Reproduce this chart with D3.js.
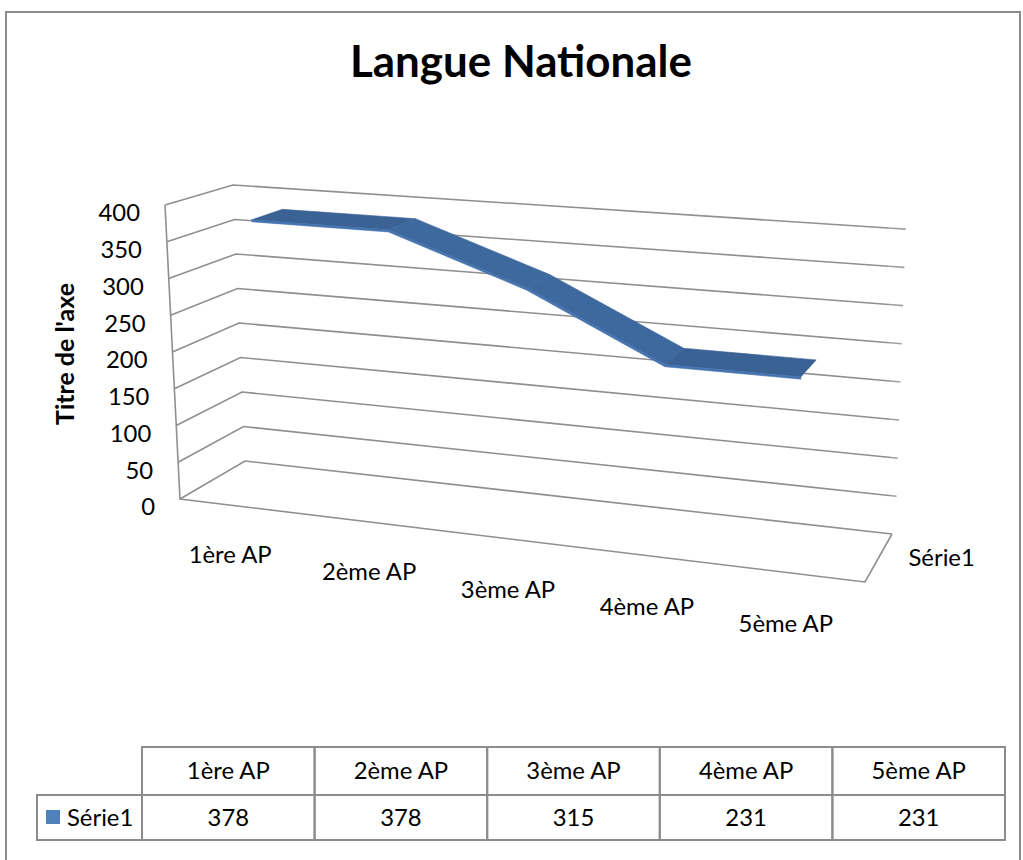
<!DOCTYPE html>
<html><head><meta charset="utf-8">
<script src="https://cdn.jsdelivr.net/npm/d3@7"></script>
<style>body{margin:0;background:#fff;} svg{display:block;}</style>
</head><body>
<svg id="c" width="1023" height="860"></svg>
<script>
const chartTitle = "Langue Nationale";
const categories = ["1ère AP","2ème AP","3ème AP","4ème AP","5ème AP"];
const seriesName = "Série1";
const values = [378,378,315,231,231];
const yTicks = [0,50,100,150,200,250,300,350,400];
const yAxisTitle = "Titre de l'axe";

const svg = d3.select("#c");
const FONT = "Lato, 'Open Sans', sans-serif";
const GRID = "#8f8f8f";

// ---- scales into the normalized 3D box (x: 0..1 left→right, y: 0..1 bottom→top, z: 0 front → 1 back)
const xScale = d3.scaleBand().domain(categories).range([0, 1]);
const yScale = d3.scaleLinear().domain([0, 400]).range([0, 1]);
const xc = c => xScale(c) + xScale.bandwidth() / 2;

// ---- screen position of the 8 corners of the plot box (layout), blended trilinearly
const box = {
  "000":[180,499], "010":[165,205], "001":[245,461], "011":[233,185],
  "100":[865,582], "110":[859,256], "101":[892,534], "111":[888,228]
};
function proj(X,Y,Z){
  let u=0, v=0;
  for (const a of [0,1]) for (const b of [0,1]) for (const c of [0,1]){
    const w=(a?X:1-X)*(b?Y:1-Y)*(c?Z:1-Z);
    const p=box[""+a+b+c]; u+=w*p[0]; v+=w*p[1];
  }
  return [u,v];
}
const line = d3.line();

// ---- chart frame
svg.append("rect").attr("x",6).attr("y",12).attr("width",1014).attr("height",920)
  .attr("fill","none").attr("stroke","#8c8c8c").attr("stroke-width",2);

// ---- font fitting helper
function fitSize(str, weight, target){
  const t = svg.append("text").attr("font-family",FONT).attr("font-weight",weight).attr("font-size",100).text(str);
  const w = t.node().getComputedTextLength(); t.remove();
  return 100*target/w;
}
const fsReg = fitSize("1ère AP", 400, 83);
const fsTitle = fitSize(chartTitle, 700, 342);
const fsAxis = fitSize(yAxisTitle, 700, 142);

// ---- title
svg.append("text").attr("x",521).attr("y",77).attr("text-anchor","middle")
  .attr("font-family",FONT).attr("font-weight",700).attr("font-size",fsTitle).text(chartTitle);

// ---- walls & gridlines
const g = svg.append("g").attr("fill","none").attr("stroke",GRID).attr("stroke-width",1.6);
yTicks.forEach(t=>{
  const y=yScale(t);
  g.append("path").attr("d", line([proj(0,y,0), proj(0,y,1), proj(1,y,1)]));
  if (t>0){
    const e = 0.005 + 0.022*y;
    g.append("path").attr("stroke","#a0a0a0").attr("d", line([proj(1,y,1), proj(1+e,y,1)]));
  }
});
g.append("path").attr("d", line([proj(0,1,0), proj(0,0,0), proj(1,0,0), proj(1,0,1)]));

// ---- ribbon (thin slab: top face across depth + small front face)
const z0 = 0.26, z1 = 0.74, th = 0.007;
const rib = svg.append("g");
for (let i=0;i<values.length-1;i++){
  const xa=xc(categories[i]), xb=xc(categories[i+1]);
  const ya=yScale(values[i]), yb=yScale(values[i+1]);
  const flat = Math.abs(values[i]-values[i+1]) < 1;
  const col = flat ? "#3a6294" : "#3d699f";
  rib.append("path")
    .attr("d", line([proj(xa,ya+th/2,z0), proj(xb,yb+th/2,z0), proj(xb,yb+th/2,z1), proj(xa,ya+th/2,z1)])+"Z")
    .attr("fill", col).attr("stroke", col).attr("stroke-width",0.6);
  rib.append("path")
    .attr("d", line([proj(xa,ya+th/2,z0), proj(xb,yb+th/2,z0), proj(xb,yb-th/2,z0), proj(xa,ya-th/2,z0)])+"Z")
    .attr("fill", "#4573af").attr("stroke","#4675b2").attr("stroke-width",0.6);
}

// ---- value axis labels
yTicks.forEach(t=>{
  const [px,py]=proj(0,yScale(t),0);
  svg.append("text").attr("x",px-25).attr("y",py+8).attr("dy","0.35em")
    .attr("text-anchor","end").attr("font-family",FONT).attr("font-size",fsReg).text(t);
});
svg.append("text").attr("transform","translate(65,354) rotate(-90)").attr("dy","0.35em")
  .attr("text-anchor","middle").attr("font-family",FONT).attr("font-weight",700)
  .attr("font-size",fsAxis).text(yAxisTitle);

// ---- category labels
categories.forEach(c=>{
  const [px,py]=proj(xc(c),0,-0.25);
  svg.append("text").attr("x",px-3).attr("y",py+38).attr("dy","0.35em")
    .attr("text-anchor","middle").attr("font-family",FONT).attr("font-size",fsReg).text(c);
});
// ---- series (depth) label
{
  const [px,py]=proj(1,0,0.5);
  svg.append("text").attr("x",px+30).attr("y",py).attr("dy","0.35em")
    .attr("font-family",FONT).attr("font-size",fsReg).text(seriesName);
}

// ---- data table
const tbl = {left:142, colW:172.6, top:747, rowH1:48, rowH2:45, legendLeft:37};
const tx = d3.scaleBand().domain(categories).range([tbl.left, tbl.left+tbl.colW*categories.length]);
const tg = svg.append("g");
categories.forEach((c,i)=>{
  tg.append("rect").attr("x",tx(c)).attr("y",tbl.top).attr("width",tx.bandwidth()).attr("height",tbl.rowH1)
    .attr("fill","none").attr("stroke","#8c8c8c").attr("stroke-width",2);
  tg.append("rect").attr("x",tx(c)).attr("y",tbl.top+tbl.rowH1).attr("width",tx.bandwidth()).attr("height",tbl.rowH2)
    .attr("fill","none").attr("stroke","#8c8c8c").attr("stroke-width",2);
  tg.append("text").attr("x",tx(c)+tx.bandwidth()/2).attr("y",tbl.top+tbl.rowH1/2).attr("dy","0.35em")
    .attr("text-anchor","middle").attr("font-family",FONT).attr("font-size",fsReg).text(c);
  tg.append("text").attr("x",tx(c)+tx.bandwidth()/2).attr("y",tbl.top+tbl.rowH1+tbl.rowH2/2).attr("dy","0.35em")
    .attr("text-anchor","middle").attr("font-family",FONT).attr("font-size",fsReg).text(values[i]);
});
tg.append("rect").attr("x",tbl.legendLeft).attr("y",tbl.top+tbl.rowH1).attr("width",tbl.left-tbl.legendLeft).attr("height",tbl.rowH2)
  .attr("fill","none").attr("stroke","#8c8c8c").attr("stroke-width",2);
tg.append("rect").attr("x",46).attr("y",tbl.top+tbl.rowH1+15).attr("width",14).attr("height",14).attr("fill","#4f81bd");
tg.append("text").attr("x",67).attr("y",tbl.top+tbl.rowH1+tbl.rowH2/2).attr("dy","0.35em")
  .attr("font-family",FONT).attr("font-size",fsReg).text(seriesName);
</script>
</body></html>
